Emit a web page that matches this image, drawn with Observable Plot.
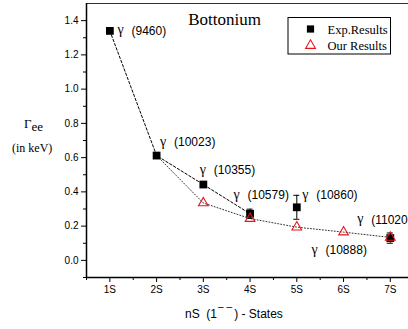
<!DOCTYPE html>
<html><head><meta charset="utf-8">
<script src="https://cdn.jsdelivr.net/npm/d3@7"></script>
<script src="https://cdn.jsdelivr.net/npm/@observablehq/plot@0.6"></script>
<style>body{margin:0;background:#fff;} #chart{position:relative;width:408px;height:329px;overflow:hidden;}</style>
</head><body><div id="chart"></div>
<script>
const stateLabels = ["1S","2S","3S","4S","5S","6S","7S"];
const expN   = [1, 2, 3, 4, 5, 7];
const expVal = [1.340, 0.612, 0.443, 0.272, 0.31, 0.130];
const expErr = [0, 0, 0, 0.027, 0.07, 0.03];
const expLineCount = 4;
const ourN   = [2, 3, 4, 5, 6, 7];
const ourVal = [0.612, 0.335, 0.244, 0.194, 0.165, 0.134];
const ourMarkerFrom = 1;
const labelText = ["(9460)","(10023)","(10355)","(10579)","(10860)","(11020)","(10888)"];
const labelN    = [1.163, 2.073, 2.925, 3.646, 5.116, 6.293, 5.315];
const labelV    = [1.34, 0.69, 0.525, 0.379, 0.379, 0.237, 0.058];
const yMajor = [0, 0.2, 0.4, 0.6, 0.8, 1.0, 1.2, 1.4];
const yMinor = [-0.1, 0.1, 0.3, 0.5, 0.7, 0.9, 1.1, 1.3];
const xMajor = [1, 2, 3, 4, 5, 6, 7];
const xMinor = [0.5, 1.5, 2.5, 3.5, 4.5, 5.5, 6.5];

const exp = expN.map((n, i) => ({n, v: expVal[i], e: expErr[i]}));
const our = ourN.map((n, i) => ({n, v: ourVal[i]}));
const labels = labelText.map((t, i) => ({t, n: labelN[i], v: labelV[i]}));
const errs = exp.filter(d => d.e > 0);

const sans = "Liberation Sans, Arial, sans-serif";
const serif = "Liberation Serif, Times New Roman, serif";

const plot = Plot.plot({
  width: 408, height: 329,
  marginLeft: 86, marginRight: 0, marginTop: 3, marginBottom: 52,
  style: {fontFamily: sans, fontSize: "10px", background: "#fff", overflow: "visible"},
  x: {domain: [0.5, 7.39], label: null},
  y: {domain: [-0.1, 1.5], label: null},
  marks: [
    Plot.ruleY([1.5], {stroke: "#333", strokeWidth: 1}),
    Plot.axisY({ticks: yMajor, tickSize: 5, tickPadding: 3, tickFormat: d => d.toFixed(1), fontSize: 10, stroke: "#000", label: null}),
    Plot.axisY({ticks: yMinor, tickSize: 3, tickFormat: () => "", stroke: "#000", label: null}),
    Plot.axisX({ticks: xMajor, tickSize: 5, tickPadding: 3, tickFormat: d => stateLabels[d - 1], fontSize: 10, stroke: "#000", label: null}),
    Plot.axisX({ticks: xMinor, tickSize: 3, tickFormat: () => "", stroke: "#000", label: null}),
    Plot.ruleX([0.5], {stroke: "#000", strokeWidth: 1.5}),
    Plot.ruleY([-0.1], {stroke: "#000", strokeWidth: 1.5}),
    Plot.line(our, {x: "n", y: "v", stroke: "#333", strokeWidth: 1, strokeDasharray: "1,2"}),
    Plot.line(exp.slice(0, expLineCount), {x: "n", y: "v", stroke: "#000", strokeWidth: 1, strokeDasharray: "2.5,2"}),
    Plot.ruleX(errs, {x: "n", y1: d => d.v - d.e, y2: d => d.v + d.e, stroke: "#000", strokeWidth: 1}),
    Plot.ruleY(errs, {y: d => d.v - d.e, x1: d => d.n - 0.065, x2: d => d.n + 0.065, stroke: "#000", strokeWidth: 1}),
    Plot.ruleY(errs, {y: d => d.v + d.e, x1: d => d.n - 0.065, x2: d => d.n + 0.065, stroke: "#000", strokeWidth: 1}),
    Plot.dot(exp, {x: "n", y: "v", symbol: "square", r: 4.4, fill: "#000", stroke: "none"}),
    Plot.dot(our.slice(ourMarkerFrom), {x: "n", y: "v", symbol: "triangle", r: 3.6, fill: "none", stroke: "#e8141b", strokeWidth: 1.1}),
    Plot.text(labels, {x: "n", y: "v", text: () => "γ", textAnchor: "start", lineAnchor: "middle", fontFamily: serif, fontSize: 14, fill: "#000", dy: -1}),
    Plot.text(labels, {x: "n", y: "v", text: "t", textAnchor: "start", lineAnchor: "middle", fontFamily: sans, fontSize: 12, fill: "#000", dx: 14})
  ]
});

const svg = d3.select(plot);
// title
svg.append("text").attr("x", 224.5).attr("y", 25).attr("text-anchor", "middle")
  .attr("font-family", serif).attr("font-size", 17).attr("fill", "#000").text("Bottonium");
// legend
const lg = svg.append("g").attr("text-anchor", "start");
lg.append("rect").attr("x", 288).attr("y", 17.5).attr("width", 102.5).attr("height", 36.5)
  .attr("fill", "#fff").attr("stroke", "#000").attr("stroke-width", 1);
lg.append("path").attr("d", d3.symbol(d3.symbolSquare, 52)()).attr("transform", "translate(310.5,29)").attr("fill", "#000");
lg.append("path").attr("d", d3.symbol(d3.symbolTriangle, 42)()).attr("transform", "translate(310.5,45.5)")
  .attr("fill", "none").attr("stroke", "#e8141b").attr("stroke-width", 1.1);
lg.append("text").attr("x", 327.5).attr("y", 33.5).attr("text-anchor", "start").attr("font-family", serif).attr("font-size", 12.5).attr("fill", "#000").text("Exp.Results");
lg.append("text").attr("x", 327.5).attr("y", 50).attr("text-anchor", "start").attr("font-family", serif).attr("font-size", 12.5).attr("fill", "#000").text("Our Results");
// y label
const yl = svg.append("text").attr("x", 24).attr("y", 128).attr("text-anchor", "start").attr("font-family", serif).attr("font-size", 13).attr("fill", "#000");
yl.append("tspan").text("Γ");
yl.append("tspan").attr("dy", 3).attr("font-size", 13).text("ee");
svg.append("text").attr("x", 12).attr("y", 152).attr("text-anchor", "start").attr("font-family", serif).attr("font-size", 12).attr("fill", "#000").text("(in keV)");
// x label
const xl = svg.append("text").attr("x", 185).attr("y", 318).attr("text-anchor", "start").attr("font-family", sans).attr("font-size", 12).attr("fill", "#000");
xl.append("tspan").text("nS  (1");
xl.append("tspan").attr("dy", -8).attr("dx", 1).attr("font-size", 10).text("–");
xl.append("tspan").attr("dx", 3).attr("font-size", 10).text("–");
xl.append("tspan").attr("dy", 8).attr("dx", 2).text(") - States");

document.getElementById("chart").appendChild(plot);
</script></body></html>
